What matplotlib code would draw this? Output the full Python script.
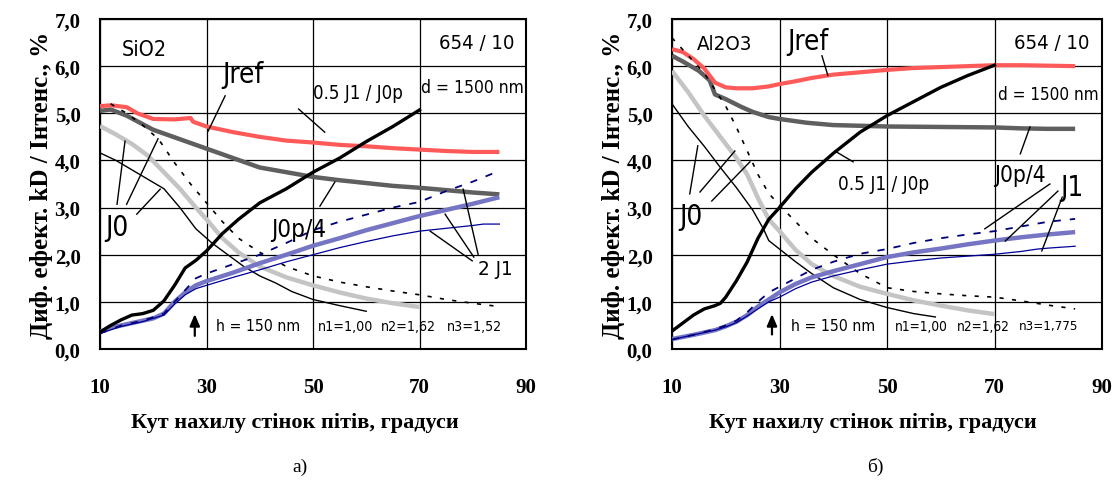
import matplotlib
matplotlib.use("Agg")
import matplotlib.pyplot as plt
from matplotlib import font_manager
from matplotlib.font_manager import FontProperties

# ---------------- data: left panel (SiO2) ----------------
a_jref_x = [10, 12, 15, 17, 20, 24, 27, 27.5, 30, 35, 40, 45, 50, 55, 60, 65, 70, 75, 80, 85]
a_jref_y = [5.15, 5.17, 5.13, 5.0, 4.88, 4.87, 4.9, 4.82, 4.72, 4.6, 4.5, 4.42, 4.38, 4.33, 4.3, 4.26, 4.23, 4.2, 4.18, 4.18]

a_j0p4_x = [10, 12, 15, 20, 25, 30, 35, 40, 45, 50, 55, 60, 65, 70, 75, 80, 85]
a_j0p4_y = [5.05, 5.08, 4.95, 4.65, 4.45, 4.25, 4.05, 3.85, 3.75, 3.65, 3.58, 3.52, 3.46, 3.42, 3.37, 3.32, 3.28]

a_ratio_x = [10, 12, 14, 16, 18, 20, 22, 24, 26, 28, 30, 33, 36, 40, 45, 50, 55, 60, 65, 70]
a_ratio_y = [0.36, 0.5, 0.62, 0.72, 0.75, 0.82, 1.02, 1.35, 1.72, 1.88, 2.08, 2.45, 2.75, 3.1, 3.4, 3.75, 4.05, 4.4, 4.72, 5.07]

a_j0thin_x = [10, 13, 16, 19, 22, 25, 28, 31, 34, 37, 40, 43, 46, 50, 55, 60]
a_j0thin_y = [4.16, 4.0, 3.8, 3.6, 3.4, 3.0, 2.55, 2.25, 2.0, 1.75, 1.55, 1.4, 1.22, 1.05, 0.92, 0.8]

a_j0gray_x = [10, 13, 16, 19, 22, 25, 28, 30, 33, 36, 40, 45, 50, 55, 60, 65, 70]
a_j0gray_y = [4.73, 4.55, 4.35, 4.1, 3.75, 3.4, 3.0, 2.75, 2.35, 2.05, 1.75, 1.52, 1.35, 1.2, 1.07, 0.97, 0.89]

a_j0dash_x = [12, 15, 18, 21, 24, 27, 30, 33, 36, 40, 45, 50, 55, 60, 65, 70, 75, 80, 85]
a_j0dash_y = [5.2, 5.0, 4.75, 4.45, 3.95, 3.5, 3.1, 2.7, 2.35, 2.05, 1.75, 1.55, 1.42, 1.32, 1.23, 1.15, 1.05, 0.97, 0.9]

a_j1thick_x = [10, 12, 14, 16, 18, 20, 22, 24, 26, 28, 30, 35, 40, 45, 50, 55, 60, 65, 70, 75, 80, 85]
a_j1thick_y = [0.36, 0.45, 0.5, 0.55, 0.6, 0.65, 0.75, 1.0, 1.2, 1.35, 1.44, 1.62, 1.82, 2.0, 2.19, 2.35, 2.52, 2.67, 2.82, 2.95, 3.08, 3.22]

a_j1thin_x = [10, 14, 18, 22, 24, 26, 28, 30, 35, 40, 45, 50, 55, 60, 65, 70, 75, 80, 82, 85]
a_j1thin_y = [0.33, 0.48, 0.58, 0.72, 0.95, 1.15, 1.28, 1.35, 1.52, 1.68, 1.85, 2.0, 2.15, 2.28, 2.4, 2.5, 2.56, 2.62, 2.65, 2.65]

a_j1dash_x = [10, 14, 18, 22, 24, 26, 28, 30, 35, 40, 45, 50, 55, 60, 65, 70, 75, 80, 85]
a_j1dash_y = [0.33, 0.5, 0.6, 0.75, 1.0, 1.25, 1.5, 1.6, 1.8, 2.0, 2.25, 2.52, 2.7, 2.85, 3.0, 3.12, 3.35, 3.55, 3.78]

# ---------------- data: right panel (Al2O3) ----------------
b_jref_x = [10, 12, 14, 16, 17, 18, 20, 22, 25, 28, 30, 33, 36, 40, 45, 50, 55, 60, 65, 70, 75, 80, 85]
b_jref_y = [6.36, 6.3, 6.15, 5.95, 5.8, 5.65, 5.55, 5.53, 5.53, 5.57, 5.62, 5.68, 5.75, 5.82, 5.87, 5.92, 5.96, 5.98, 6.0, 6.02, 6.02, 6.01, 6.0]

b_j0p4_x = [10, 12, 15, 17, 18, 20, 23, 25, 28, 30, 35, 40, 50, 60, 70, 75, 80, 85]
b_j0p4_y = [6.22, 6.1, 5.9, 5.7, 5.4, 5.3, 5.13, 5.03, 4.92, 4.88, 4.8, 4.75, 4.72, 4.71, 4.7, 4.68, 4.67, 4.67]

b_ratio_x = [10, 12, 14, 16, 18, 19, 20, 22, 24, 26, 28, 30, 33, 36, 40, 45, 50, 55, 60, 65, 70]
b_ratio_y = [0.38, 0.55, 0.72, 0.85, 0.92, 0.97, 1.1, 1.45, 1.85, 2.35, 2.75, 3.0, 3.4, 3.75, 4.15, 4.6, 4.95, 5.25, 5.55, 5.8, 6.02]

b_j0thin_x = [10, 13, 16, 19, 22, 25, 27, 28, 30, 33, 36, 40, 45, 50, 55, 59]
b_j0thin_y = [5.2, 4.72, 4.3, 3.85, 3.42, 2.95, 2.55, 2.3, 2.12, 1.85, 1.6, 1.3, 1.05, 0.88, 0.75, 0.68]

b_j0gray_x = [10, 13, 16, 19, 22, 24, 26, 28, 30, 33, 36, 40, 45, 50, 55, 60, 65, 70]
b_j0gray_y = [5.9, 5.45, 4.95, 4.5, 4.05, 3.7, 3.2, 2.75, 2.5, 2.1, 1.8, 1.55, 1.32, 1.17, 1.03, 0.92, 0.82, 0.74]

b_j0dash_x = [10, 12, 14, 16, 18, 20, 22, 24, 26, 28, 30, 33, 36, 40, 45, 50, 55, 60, 65, 70, 75, 80, 85]
b_j0dash_y = [6.6, 6.35, 6.1, 5.85, 5.5, 5.15, 4.7, 4.2, 3.7, 3.3, 3.05, 2.7, 2.35, 2.0, 1.6, 1.3, 1.22, 1.17, 1.13, 1.1, 1.02, 0.93, 0.85]

b_j1thick_x = [10, 14, 18, 20, 22, 24, 26, 28, 30, 33, 36, 40, 45, 50, 55, 60, 65, 70, 75, 80, 85]
b_j1thick_y = [0.21, 0.3, 0.4, 0.48, 0.58, 0.72, 0.9, 1.05, 1.2, 1.38, 1.52, 1.65, 1.8, 1.95, 2.05, 2.13, 2.22, 2.3, 2.37, 2.43, 2.48]

b_j1thin_x = [10, 14, 18, 20, 22, 24, 26, 28, 30, 33, 36, 40, 45, 50, 55, 60, 65, 70, 75, 78, 80, 85]
b_j1thin_y = [0.2, 0.3, 0.4, 0.47, 0.56, 0.7, 0.85, 1.0, 1.1, 1.28, 1.42, 1.55, 1.68, 1.8, 1.87, 1.93, 1.97, 2.01, 2.07, 2.12, 2.14, 2.18]

b_j1dash_x = [10, 14, 18, 20, 22, 24, 26, 28, 30, 33, 36, 40, 45, 50, 55, 60, 65, 70, 75, 80, 85]
b_j1dash_y = [0.2, 0.3, 0.42, 0.5, 0.6, 0.78, 1.0, 1.2, 1.32, 1.5, 1.68, 1.85, 2.02, 2.12, 2.25, 2.35, 2.43, 2.5, 2.6, 2.7, 2.76]

x_ticks = [10, 30, 50, 70, 90]
y_ticks = [0, 1, 2, 3, 4, 5, 6, 7]
y_ticklabels = ["0,0", "1,0", "2,0", "3,0", "4,0", "5,0", "6,0", "7,0"]

xlabel = "Кут нахилу стінок пітів, градуси"
ylabel = "Диф. ефект. kD / Інтенс., %"

# ---------------- fonts ----------------
SERIF = ["Liberation Serif", "DejaVu Serif"]


def pick_narrow():
    best = None
    for f in font_manager.fontManager.ttflist:
        nm = f.name.lower()
        cond = ("narrow" in nm or "condensed" in nm or
                str(f.stretch).lower() in ("condensed", "semi-condensed", "extra-condensed"))
        if not cond or f.style != "normal":
            continue
        if "mono" in nm or ("serif" in nm and "sans" not in nm):
            continue
        w = f.weight if isinstance(f.weight, int) else 400
        score = abs(w - 400)
        if best is None or score < best[0]:
            best = (score, f)
    return best[1] if best else None


nf = pick_narrow()
if nf is not None:
    NARROW_FP = FontProperties(fname=nf.fname)
else:
    NARROW_FP = FontProperties(family=["Roboto", "DejaVu Sans"])

fig = plt.figure(figsize=(11.15, 4.89), dpi=100)
W, H = 1115, 489
axL = fig.add_axes([100 / W, (H - 350) / H, 426 / W, 330 / H])
axR = fig.add_axes([672 / W, (H - 350) / H, 430 / W, 330 / H])

RED = "#ff5a5a"
DGRAY = "#5f5f5f"
LGRAY = "#c4c4c4"
BLUE_T = "#7575c4"
BLUE_N = "#000099"
BLUE_D = "#00007a"


def draw(ax, d):
    ax.plot(d["j0p4"][0], d["j0p4"][1], color=DGRAY, lw=3.2, solid_capstyle="butt", zorder=3)
    ax.plot(d["jref"][0], d["jref"][1], color=RED, lw=3.0, solid_capstyle="butt", zorder=3)
    ax.plot(d["j0gray"][0], d["j0gray"][1], color=LGRAY, lw=3.2, solid_capstyle="butt", zorder=3)
    ax.plot(d["j0thin"][0], d["j0thin"][1], color="black", lw=1.0, zorder=4)
    ax.plot(d["j0dash"][0], d["j0dash"][1], color="black", lw=1.2, dashes=(2.5, 5), zorder=4)
    ax.plot(d["j1thick"][0], d["j1thick"][1], color=BLUE_T, lw=3.2, solid_capstyle="butt", zorder=4)
    ax.plot(d["j1thin"][0], d["j1thin"][1], color=BLUE_N, lw=0.9, zorder=5)
    ax.plot(d["j1dash"][0], d["j1dash"][1], color=BLUE_D, lw=1.3, dashes=(4, 5), zorder=5)
    ax.plot(d["ratio"][0], d["ratio"][1], color="black", lw=2.4, zorder=6)


def style(ax, xlab_frac):
    ax.set_xlim(10, 90)
    ax.set_ylim(0, 7)
    ax.set_xticks(x_ticks)
    ax.set_yticks(y_ticks)
    ax.set_yticklabels(y_ticklabels)
    ax.grid(True, color="black", lw=0.9)
    ax.set_axisbelow(True)
    for s in ax.spines.values():
        s.set_linewidth(1.5)
        s.set_color("black")
    ax.tick_params(axis="both", length=0, labelsize=15)
    ax.tick_params(axis="x", pad=20)
    ax.tick_params(axis="y", pad=14)
    for lab in ax.get_xticklabels() + ax.get_yticklabels():
        lab.set_family(SERIF)
        lab.set_fontweight("bold")
    ax.set_xlabel(xlabel, family=SERIF, fontweight="bold", fontsize=16)
    ax.xaxis.set_label_coords(xlab_frac, -63 / 330, transform=ax.transAxes)
    ax.set_ylabel(ylabel, family=SERIF, fontweight="bold", fontsize=18, labelpad=1)


def leader(ax, x0, y0, x1, y1):
    ax.plot([x0, x1], [y0, y1], color="black", lw=1.0, zorder=7)


fit_list = []


def txt(ax, x, y, s, size, width_px, slack=1.15):
    t = ax.text(x, y, s, ha="center", va="center", fontproperties=NARROW_FP, zorder=8)
    t.set_fontsize(size)
    fit_list.append((t, width_px * slack))
    return t


dA = dict(jref=(a_jref_x, a_jref_y), j0p4=(a_j0p4_x, a_j0p4_y), ratio=(a_ratio_x, a_ratio_y),
          j0thin=(a_j0thin_x, a_j0thin_y), j0gray=(a_j0gray_x, a_j0gray_y), j0dash=(a_j0dash_x, a_j0dash_y),
          j1thick=(a_j1thick_x, a_j1thick_y), j1thin=(a_j1thin_x, a_j1thin_y), j1dash=(a_j1dash_x, a_j1dash_y))
dB = dict(jref=(b_jref_x, b_jref_y), j0p4=(b_j0p4_x, b_j0p4_y), ratio=(b_ratio_x, b_ratio_y),
          j0thin=(b_j0thin_x, b_j0thin_y), j0gray=(b_j0gray_x, b_j0gray_y), j0dash=(b_j0dash_x, b_j0dash_y),
          j1thick=(b_j1thick_x, b_j1thick_y), j1thin=(b_j1thin_x, b_j1thin_y), j1dash=(b_j1dash_x, b_j1dash_y))

draw(axL, dA)
draw(axR, dB)
style(axL, 0.458)
style(axR, 0.467)

# ---- left annotations ----
txt(axL, 18.3, 6.36, "SiO2", 18, 39)
txt(axL, 80.8, 6.5, "654 / 10", 17, 66)
txt(axL, 80.0, 5.55, "d = 1500 nm", 16, 90)
txt(axL, 36.9, 5.83, "Jref", 20, 40)
leader(axL, 33.5, 5.37, 30.3, 4.62)
txt(axL, 58.4, 5.45, "0.5 J1 / J0p", 16, 79)
leader(axL, 47.3, 5.09, 52.2, 4.6)
txt(axL, 13.2, 2.58, "J0", 20, 22)
leader(axL, 13.2, 3.07, 14.7, 4.41)
leader(axL, 15.0, 3.07, 20.9, 4.46)
leader(axL, 16.9, 2.86, 21.3, 3.39)
txt(axL, 47.4, 2.55, "J0p/4", 20, 48)
leader(axL, 51.3, 3.03, 54.1, 3.54)
txt(axL, 84.2, 1.7, "2 J1", 20, 30)
leader(axL, 79.9, 1.87, 72.0, 2.5)
leader(axL, 80.2, 1.95, 74.8, 2.86)
leader(axL, 81.0, 2.01, 78.2, 3.39)
txt(axL, 39.7, 0.49, "h = 150 nm", 17, 73)
txt(axL, 56.2, 0.49, "n1=1,00", 17, 55, 1.0)
txt(axL, 68.0, 0.49, "n2=1,62", 17, 55, 1.0)
txt(axL, 80.3, 0.49, "n3=1,52", 17, 55, 1.0)
axL.annotate("", xy=(27.8, 0.8), xytext=(27.8, 0.22),
             arrowprops=dict(arrowstyle="-|>,head_length=0.7,head_width=0.3", color="black", lw=1.6), zorder=8)

# ---- right annotations ----
txt(axR, 19.7, 6.47, "Al2O3", 18, 48)
txt(axR, 80.7, 6.5, "654 / 10", 17, 66)
txt(axR, 80.1, 5.41, "d = 1500 nm", 16, 88)
txt(axR, 35.3, 6.54, "Jref", 20, 40)
leader(axR, 37.9, 6.22, 39.0, 5.8)
txt(axR, 49.3, 3.5, "0.5 J1 / J0p", 16, 80)
leader(axR, 43.7, 3.97, 40.3, 4.2)
txt(axR, 74.8, 3.71, "J0p/4", 18, 45)
leader(axR, 74.8, 4.14, 76.6, 4.71)
txt(axR, 84.4, 3.44, "J1", 20, 27)
leader(axR, 80.3, 3.5, 68.2, 2.55)
leader(axR, 81.8, 3.35, 72.0, 2.29)
leader(axR, 82.6, 3.22, 78.8, 2.08)
txt(axR, 13.5, 2.83, "J0", 20, 22)
leader(axR, 13.3, 3.29, 14.8, 4.31)
leader(axR, 15.2, 3.33, 21.7, 4.2)
leader(axR, 17.4, 3.14, 24.5, 3.97)
txt(axR, 40.0, 0.49, "h = 150 nm", 17, 73)
txt(axR, 56.3, 0.49, "n1=1,00", 17, 53, 1.0)
txt(axR, 67.9, 0.49, "n2=1,62", 17, 53, 1.0)
txt(axR, 80.1, 0.49, "n3=1,775", 17, 60, 1.0)
axR.annotate("", xy=(28.6, 0.8), xytext=(28.6, 0.25),
             arrowprops=dict(arrowstyle="-|>,head_length=0.7,head_width=0.3", color="black", lw=1.6), zorder=8)

fig.text(300 / W, 1 - 467 / H, "а)", ha="center", va="center", fontsize=14, family=SERIF)
fig.text(875 / W, 1 - 467 / H, "б)", ha="center", va="center", fontsize=14, family=SERIF)

# shrink annotation texts so their widths stay close to the reference
fig.canvas.draw()
rend = fig.canvas.get_renderer()
for t, wpx in fit_list:
    w = t.get_window_extent(rend).width
    if w > wpx:
        t.set_fontsize(t.get_fontsize() * wpx / w)

fig.savefig("out.png", dpi=100)
